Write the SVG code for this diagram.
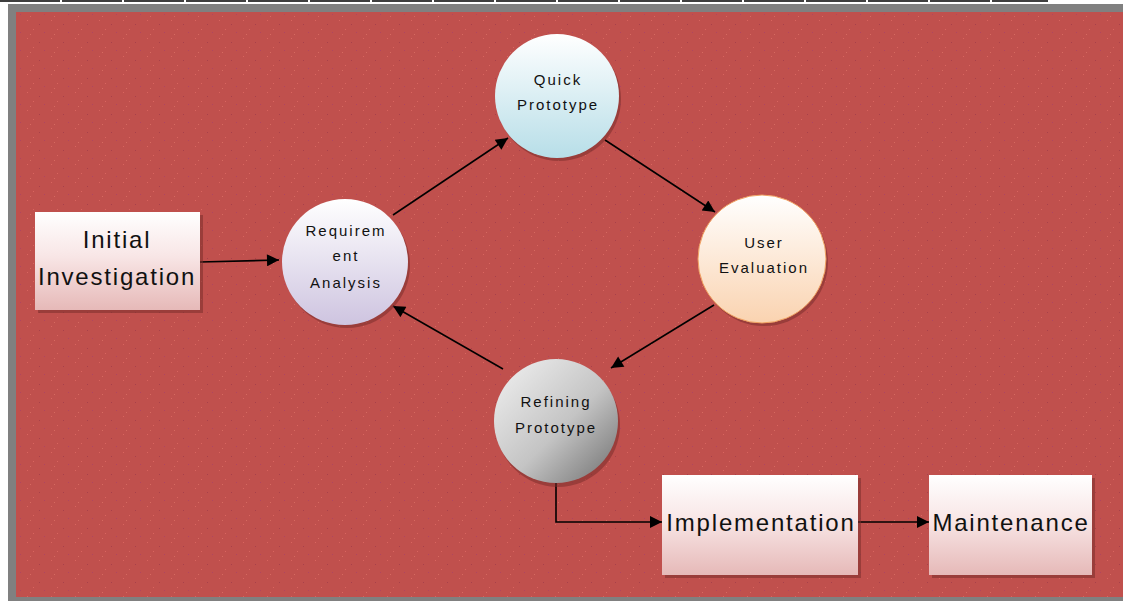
<svg xmlns="http://www.w3.org/2000/svg" width="1123" height="601" viewBox="0 0 1123 601">
<defs>
<pattern id="dots" width="24" height="18" patternUnits="userSpaceOnUse">
<rect width="24" height="18" fill="#C0504D"/>
<rect x="3" y="2" width="1" height="1" fill="#D9655F"/>
<rect x="15" y="6" width="1" height="1" fill="#A8404A"/>
<rect x="9" y="11" width="1" height="1" fill="#D9655F"/>
<rect x="20" y="14" width="1" height="1" fill="#B04560"/>
<rect x="6" y="16" width="1" height="1" fill="#D66A60"/>
</pattern>
<linearGradient id="gBox" x1="0" y1="0" x2="0" y2="1">
<stop offset="0" stop-color="#FFFFFF"/>
<stop offset="0.45" stop-color="#F8E6E6"/>
<stop offset="1" stop-color="#E6B9B8"/>
</linearGradient>
<linearGradient id="gReq" x1="0" y1="0" x2="0" y2="1">
<stop offset="0" stop-color="#FFFFFF"/>
<stop offset="1" stop-color="#CEC4E0"/>
</linearGradient>
<linearGradient id="gQuick" x1="0" y1="0" x2="0" y2="1">
<stop offset="0" stop-color="#FFFFFF"/>
<stop offset="1" stop-color="#B7DEE8"/>
</linearGradient>
<linearGradient id="gUser" x1="0" y1="0" x2="0" y2="1">
<stop offset="0" stop-color="#FFFFFF"/>
<stop offset="1" stop-color="#FAD3B0"/>
</linearGradient>
<linearGradient id="gRef" x1="0" y1="0" x2="1" y2="1">
<stop offset="0" stop-color="#F2F2F2"/>
<stop offset="0.55" stop-color="#C4C4C4"/>
<stop offset="1" stop-color="#6E6E6E"/>
</linearGradient>
<marker id="arrB" viewBox="0 0 10 10" refX="10" refY="5" markerWidth="14" markerHeight="12" markerUnits="userSpaceOnUse" orient="auto">
<path d="M0,0 L10,5 L0,10 z" fill="#000"/>
</marker>
</defs>
<style>
.lbl{font-family:"Liberation Sans",Arial,sans-serif;fill:#111;text-anchor:middle}
.big{font-size:24px;letter-spacing:1.8px}
.sm{font-size:15px;letter-spacing:2px}
.conn{stroke:#000;stroke-width:1.6;fill:none;marker-end:url(#arrB)}
.shadow{fill:#7A2E2C;opacity:0.55}
</style>
<rect x="0" y="0" width="1123" height="601" fill="#FFFFFF"/>
<line x1="0" y1="1" x2="1048" y2="1" stroke="#000" stroke-width="1.5" stroke-dasharray="60 2"/>
<rect x="8" y="4" width="1115" height="597" fill="#808080"/>
<rect x="16" y="12" width="1107" height="585" fill="url(#dots)"/>

<g id="connectors">
<line class="conn" x1="200" y1="262" x2="279" y2="260"/>
<line class="conn" x1="393" y1="215" x2="508" y2="138"/>
<line class="conn" x1="605" y1="140" x2="715" y2="212"/>
<line class="conn" x1="714" y1="305" x2="611" y2="368"/>
<line class="conn" x1="503" y1="369" x2="393" y2="306"/>
<polyline class="conn" points="556,479 556,522 662,522"/>
<line class="conn" x1="858" y1="522" x2="929" y2="522"/>
</g>

<g id="initial-investigation">
<rect class="shadow" x="38" y="215" width="165" height="98"/>
<rect x="35" y="212" width="165" height="98" fill="url(#gBox)"/>
<text class="lbl big" x="117" y="248">Initial</text>
<text class="lbl big" x="117" y="285">Investigation</text>
</g>

<g id="requirement-analysis">
<circle class="shadow" cx="347" cy="265" r="63"/>
<circle cx="345" cy="262" r="63" fill="url(#gReq)"/>
<text class="lbl sm" x="346" y="236">Requirem</text>
<text class="lbl sm" x="346" y="261">ent</text>
<text class="lbl sm" x="346" y="288">Analysis</text>
</g>

<g id="quick-prototype">
<circle class="shadow" cx="559" cy="99" r="62"/>
<circle cx="557" cy="96" r="62" fill="url(#gQuick)"/>
<text class="lbl sm" x="558" y="85">Quick</text>
<text class="lbl sm" x="558" y="110">Prototype</text>
</g>

<g id="user-evaluation">
<circle class="shadow" cx="764" cy="262" r="64"/>
<circle cx="762" cy="259" r="64" fill="url(#gUser)" stroke="#F0A060" stroke-width="1"/>
<text class="lbl sm" x="764" y="248">User</text>
<text class="lbl sm" x="764" y="273">Evaluation</text>
</g>

<g id="refining-prototype">
<circle class="shadow" cx="558" cy="425" r="62"/>
<circle cx="556" cy="421" r="62" fill="url(#gRef)"/>
<text class="lbl sm" x="556" y="407">Refining</text>
<text class="lbl sm" x="556" y="433">Prototype</text>
</g>

<g id="implementation">
<rect class="shadow" x="665" y="478" width="196" height="100"/>
<rect x="662" y="475" width="196" height="100" fill="url(#gBox)"/>
<text class="lbl big" x="761" y="531">Implementation</text>
</g>

<g id="maintenance">
<rect class="shadow" x="932" y="478" width="163" height="100"/>
<rect x="929" y="475" width="163" height="100" fill="url(#gBox)"/>
<text class="lbl big" x="1011" y="531">Maintenance</text>
</g>
</svg>
